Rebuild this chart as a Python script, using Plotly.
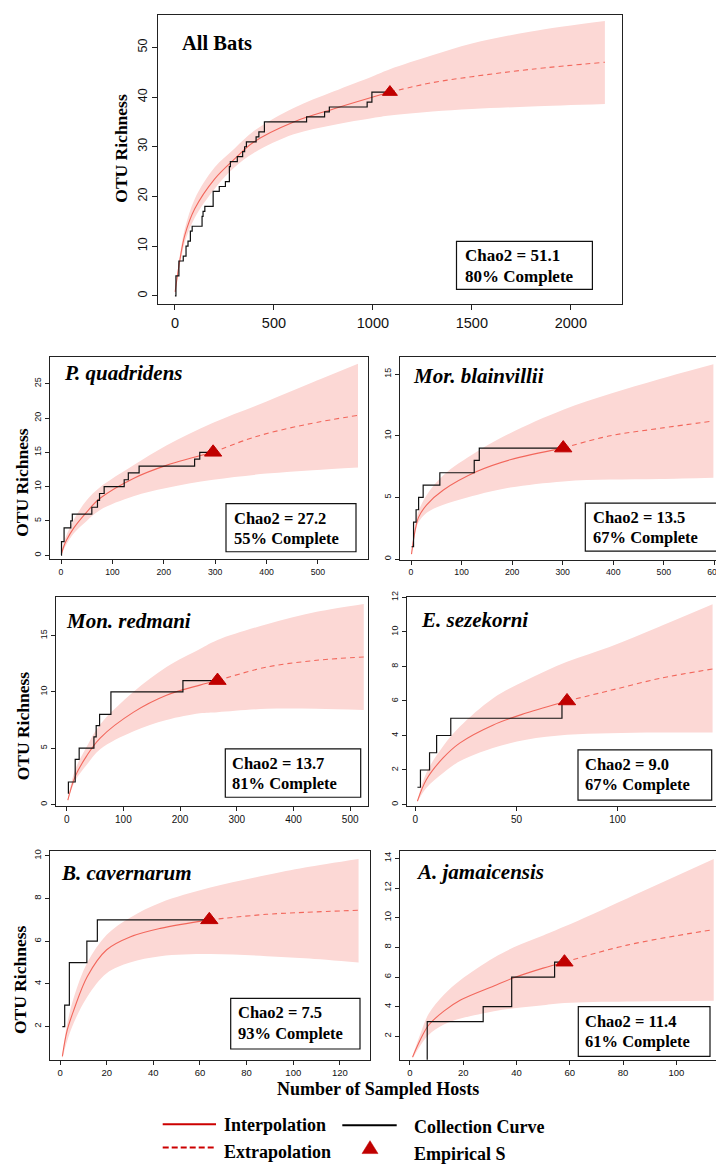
import plotly.graph_objects as go

W, H = 724, 1166
OFF = 8  # page body margin of the browser

# ======================= DATA =======================
# ---- All Bats ----
ab_int_x = [1, 25, 50, 100, 200, 300, 400, 600, 800, 1000, 1086]
ab_int_y = [0.8, 7.2, 12.2, 17.5, 23.5, 27.5, 31.0, 35.0, 37.6, 40.0, 41.0]
ab_ext_x = [1086, 1300, 1500, 1800, 2172]
ab_ext_y = [41.0, 42.9, 44.1, 45.6, 47.0]
ab_band_x = [1, 25, 50, 100, 200, 300, 400, 600, 800, 1000, 1086, 1300, 1500, 1800, 2172]
ab_band_lo = [0.7, 6.3, 10.8, 15.7, 21.5, 25.8, 28.8, 32.5, 34.4, 35.8, 36.3, 37.1, 37.6, 38.1, 38.6]
ab_band_hi = [0.9, 8.2, 13.5, 19.5, 25.8, 29.6, 33.2, 37.8, 41.1, 44.2, 45.6, 48.4, 50.8, 53.2, 55.3]
ab_step_x = [0, 5, 20, 42, 56, 66, 78, 87, 137, 142, 151, 193, 224, 255, 275, 280, 315, 342, 352, 361,
             410, 424, 452, 665, 756, 780, 971, 995, 1086]
ab_step_y = [0, 4, 7, 8, 10, 11, 13, 14, 16, 17, 18, 21, 22, 23, 26, 27, 28, 29, 30, 31,
             32, 33, 35, 36, 37, 38, 39, 41, 41]
ab_obs_x, ab_obs_y = 1086, 41
ab_chao2, ab_complete = "51.1", "80%"
ab_xticks = [0, 500, 1000, 1500, 2000]
ab_yticks = [0, 10, 20, 30, 40, 50]

# ---- P. quadridens ----
pq_int_x = [1, 5, 10, 25, 50, 76, 141, 205, 296]
pq_int_y = [0.2, 1.2, 2.1, 4.0, 6.3, 8.3, 11.2, 13.1, 15.0]
pq_ext_x = [296, 380, 480, 578]
pq_ext_y = [15.0, 17.3, 19.1, 20.4]
pq_band_x = [1, 5, 10, 25, 50, 76, 141, 205, 296, 400, 490, 578]
pq_band_lo = [0.1, 0.8, 1.5, 3.2, 5.0, 6.6, 8.6, 9.8, 11.0, 11.9, 12.4, 12.8]
pq_band_hi = [0.3, 1.7, 2.8, 5.2, 8.0, 9.9, 13.1, 16.0, 19.3, 22.4, 25.2, 27.9]
pq_step_x = [0, 1, 6, 19, 22, 60, 71, 75, 84, 123, 131, 152, 260, 270, 296]
pq_step_y = [0, 2, 4, 5, 6, 7, 8, 9, 10, 11, 12, 13, 14, 15, 15]
pq_obs_x, pq_obs_y = 296, 15
pq_chao2, pq_complete = "27.2", "55%"
pq_xticks = [0, 100, 200, 300, 400, 500]
pq_yticks = [0, 5, 10, 15, 20, 25]

# ---- Mor. blainvillii ----
mb_int_x = [1, 5, 10, 15, 31, 64, 130, 196, 301]
mb_int_y = [0.4, 1.6, 2.7, 3.4, 4.4, 5.6, 7.1, 8.05, 9.0]
mb_ext_x = [301, 394, 492, 598]
mb_ext_y = [9.0, 10.0, 10.6, 11.2]
mb_band_x = [1, 5, 10, 15, 31, 64, 130, 196, 301, 394, 492, 598]
mb_band_lo = [0.3, 1.3, 2.4, 3.0, 3.75, 4.4, 5.2, 5.8, 6.3, 6.45, 6.5, 6.6]
mb_band_hi = [0.5, 1.9, 3.1, 3.9, 5.2, 6.8, 8.7, 10.2, 12.1, 13.4, 14.6, 15.8]
mb_step_x = [1, 5, 10, 15, 24, 57, 125, 135, 301]
mb_step_y = [1, 3, 4, 5, 6, 7, 8, 9, 9]
mb_obs_x, mb_obs_y = 301, 9
mb_chao2, mb_complete = "13.5", "67%"
mb_xticks = [0, 100, 200, 300, 400, 500, 600]
mb_yticks = [0, 5, 10, 15]

# ---- Mon. redmani ----
mr_int_x = [2, 15, 35, 59, 118, 176, 235, 266]
mr_int_y = [0.4, 2.5, 4.3, 5.9, 8.2, 9.7, 10.6, 11.0]
mr_ext_x = [266, 353, 441, 524]
mr_ext_y = [11.0, 12.2, 12.8, 13.1]
mr_band_x = [2, 15, 35, 59, 118, 176, 235, 266, 353, 441, 524]
mr_band_lo = [0.3, 2.1, 3.5, 4.9, 6.5, 7.5, 8.1, 8.2, 8.5, 8.5, 8.4]
mr_band_hi = [0.5, 3.1, 5.1, 7.1, 10.0, 12.2, 13.8, 14.6, 16.0, 17.1, 17.8]
mr_step_x = [2, 3, 15, 22, 48, 52, 58, 78, 205, 266]
mr_step_y = [1, 2, 4, 5, 6, 7, 8, 10, 11, 11]
mr_obs_x, mr_obs_y = 266, 11
mr_chao2, mr_complete = "13.7", "81%"
mr_xticks = [0, 100, 200, 300, 400, 500]
mr_yticks = [0, 5, 10, 15]

# ---- E. sezekorni ----
es_int_x = [1, 5.4, 13.7, 21.9, 38.3, 54.8, 75]
es_int_y = [0.2, 1.44, 2.7, 3.56, 4.6, 5.3, 6.0]
es_ext_x = [75, 96, 120.6, 147]
es_ext_y = [6.0, 6.6, 7.3, 7.85]
es_band_x = [1, 5.4, 13.7, 21.9, 38.3, 54.8, 75, 96, 120.6, 147]
es_band_lo = [0.15, 0.96, 1.83, 2.5, 3.27, 3.75, 4.04, 4.13, 4.17, 4.17]
es_band_hi = [0.25, 1.83, 3.37, 4.5, 6.15, 7.2, 8.27, 9.13, 10.3, 11.6]
es_step_x = [1, 2.5, 7, 10.5, 17.5, 72.5, 75]
es_step_y = [1, 2, 3, 4, 5, 6, 6]
es_obs_x, es_obs_y = 75, 6
es_chao2, es_complete = "9.0", "67%"
es_xticks = [0, 50, 100, 150]
es_yticks = [0, 2, 4, 6, 8, 10, 12]

# ---- B. cavernarum ----
bc_int_x = [1, 3, 6, 11.7, 20, 30, 43, 64]
bc_int_y = [0.6, 1.8, 2.8, 4.35, 5.6, 6.2, 6.6, 7.0]
bc_ext_x = [64, 88.6, 105, 128]
bc_ext_y = [7.0, 7.26, 7.35, 7.45]
bc_band_x = [1, 3, 6, 11.7, 20, 30, 43, 64, 88.6, 105, 128]
bc_band_lo = [0.5, 1.3, 2.2, 3.4, 4.5, 5.0, 5.3, 5.4, 5.3, 5.2, 5.0]
bc_band_hi = [0.7, 2.1, 3.4, 5.0, 6.3, 7.1, 7.8, 8.5, 9.1, 9.45, 9.85]
bc_step_x = [1, 2, 4, 11.5, 16, 64]
bc_step_y = [2, 3, 5, 6, 7, 7]
bc_obs_x, bc_obs_y = 64, 7
bc_chao2, bc_complete = "7.5", "93%"
bc_xticks = [0, 20, 40, 60, 80, 100, 120]
bc_yticks = [2, 4, 6, 8, 10]

# ---- A. jamaicensis ----
aj_int_x = [1, 4, 7, 12.75, 19, 31.5, 39, 50, 58]
aj_int_y = [0.6, 1.8, 2.75, 3.7, 4.45, 5.4, 5.95, 6.6, 7.0]
aj_ext_x = [58, 81.5, 114]
aj_ext_y = [7.0, 8.15, 9.2]
aj_band_x = [1, 4, 7, 12.75, 19, 31.5, 39, 50, 58, 81.5, 114]
aj_band_lo = [0.5, 1.4, 2.1, 2.8, 3.2, 3.7, 3.9, 4.1, 4.25, 4.35, 4.4]
aj_band_hi = [0.7, 2.2, 3.5, 4.8, 5.8, 7.3, 8.0, 8.8, 9.4, 11.3, 13.95]
aj_step_x = [6.4, 6.5, 27.5, 38.2, 54.3, 57]
aj_step_y = [0, 3, 4, 6, 7, 7]
aj_obs_x, aj_obs_y = 58, 7
aj_chao2, aj_complete = "11.4", "61%"
aj_xticks = [0, 20, 40, 60, 80, 100]
aj_yticks = [2, 4, 6, 8, 10, 12, 14]

# ======================= LAYOUT / STYLE =======================
SERIF = "Liberation Serif"
SANS = "Liberation Sans"
RED = "#F2675C"
FILL = "#FCD8D5"
TRI = "#C00000"
FRAME = "#222222"

panels = [
    dict(name="All Bats", italic=False,
         ix=ab_int_x, iy=ab_int_y, ex=ab_ext_x, ey=ab_ext_y,
         bx=ab_band_x, blo=ab_band_lo, bhi=ab_band_hi, sx=ab_step_x, sy=ab_step_y,
         ox=ab_obs_x, oy=ab_obs_y, chao=ab_chao2, comp=ab_complete, xt=ab_xticks, yt=ab_yticks,
         box=(158, 8.6, 622.3, 300), xr=[-85.6, 2260], yr=[-1.7, 56.6],
         xfs=14.5, yfs=12.5, tl=5, tri=13, lab=(180.4, 37.3, 20.5),
         cbox=(456.5, 236.7, 592.4, 285), cfs=17, cpad=6,
         ytitle=(121, 142.5)),
    dict(name="P. quadridens", italic=True,
         ix=pq_int_x, iy=pq_int_y, ex=pq_ext_x, ey=pq_ext_y,
         bx=pq_band_x, blo=pq_band_lo, bhi=pq_band_hi, sx=pq_step_x, sy=pq_step_y,
         ox=pq_obs_x, oy=pq_obs_y, chao=pq_chao2, comp=pq_complete, xt=pq_xticks, yt=pq_yticks,
         box=(50, 353.3, 368.3, 556.7), xr=[-21.4, 598], yr=[-0.6, 28.86],
         xfs=8.7, yfs=9, tl=4, tri=15, lab=(61.7, 369, 21),
         cbox=(226, 500.7, 356, 549), cfs=16.5, cpad=5.7,
         ytitle=(21.7, 479)),
    dict(name="Mor. blainvillii", italic=True,
         ix=mb_int_x, iy=mb_int_y, ex=mb_ext_x, ey=mb_ext_y,
         bx=mb_band_x, blo=mb_band_lo, bhi=mb_band_hi, sx=mb_step_x, sy=mb_step_y,
         ox=mb_obs_x, oy=mb_obs_y, chao=mb_chao2, comp=mb_complete, xt=mb_xticks, yt=mb_yticks,
         box=(400, 353.3, 723.3, 557), xr=[-21.8, 617.6], yr=[-0.05, 16.37],
         xfs=8.7, yfs=9, tl=4, tri=15, lab=(410.7, 371.7, 21),
         cbox=(585.3, 500, 722.3, 548.3), cfs=16.5, cpad=5.7,
         ytitle=None),
    dict(name="Mon. redmani", italic=True,
         ix=mr_int_x, iy=mr_int_y, ex=mr_ext_x, ey=mr_ext_y,
         bx=mr_band_x, blo=mr_band_lo, bhi=mr_band_hi, sx=mr_step_x, sy=mr_step_y,
         ox=mr_obs_x, oy=mr_obs_y, chao=mr_chao2, comp=mr_complete, xt=mr_xticks, yt=mr_yticks,
         box=(55.7, 594.3, 368.3, 804.7), xr=[-19.4, 532], yr=[-0.12, 18.44],
         xfs=10, yfs=9, tl=4, tri=15, lab=(64.3, 618.3, 21),
         cbox=(225.3, 747.3, 360.7, 796), cfs=16.5, cpad=5,
         ytitle=(22.7, 724)),
    dict(name="E. sezekorni", italic=True,
         ix=es_int_x, iy=es_int_y, ex=es_ext_x, ey=es_ext_y,
         bx=es_band_x, blo=es_band_lo, bhi=es_band_hi, sx=es_step_x, sy=es_step_y,
         ox=es_obs_x, oy=es_obs_y, chao=es_chao2, comp=es_complete, xt=es_xticks, yt=es_yticks,
         box=(406.7, 594.3, 723.3, 804.7), xr=[-4.3, 152.3], yr=[-0.08, 12.04],
         xfs=10, yfs=9, tl=4, tri=15, lab=(419.3, 617.7, 21),
         cbox=(578, 748.3, 711.7, 799), cfs=16.5, cpad=5,
         ytitle=None),
    dict(name="B. cavernarum", italic=True,
         ix=bc_int_x, iy=bc_int_y, ex=bc_ext_x, ey=bc_ext_y,
         bx=bc_band_x, blo=bc_band_lo, bhi=bc_band_hi, sx=bc_step_x, sy=bc_step_y,
         ox=bc_obs_x, oy=bc_obs_y, chao=bc_chao2, comp=bc_complete, xt=bc_xticks, yt=bc_yticks,
         box=(50, 850, 370, 1060), xr=[-4.3, 132.9], yr=[0.45, 10.23],
         xfs=9.5, yfs=9.5, tl=4, tri=15, lab=(59.3, 872.7, 21),
         cbox=(230.7, 998.3, 360, 1049.3), cfs=16.5, cpad=5.3,
         ytitle=(20, 980)),
    dict(name="A. jamaicensis", italic=True,
         ix=aj_int_x, iy=aj_int_y, ex=aj_ext_x, ey=aj_ext_y,
         bx=aj_band_x, blo=aj_band_lo, bhi=aj_band_hi, sx=aj_step_x, sy=aj_step_y,
         ox=aj_obs_x, oy=aj_obs_y, chao=aj_chao2, comp=aj_complete, xt=aj_xticks, yt=aj_yticks,
         box=(399.5, 850.5, 723.3, 1060), xr=[-3.9, 117.6], yr=[0.43, 14.47],
         xfs=9.5, yfs=9.5, tl=4, tri=15, lab=(414.3, 871.7, 21),
         cbox=(578.3, 1006.7, 710, 1056.7), cfs=16.5, cpad=5,
         ytitle=None),
]

FW, FH = W - OFF, H - OFF


def px(x):
    return (x - OFF) / FW


def py(y):
    return 1 - (y - OFF) / FH


fig = go.Figure()
layout = dict(width=FW, height=FH, autosize=False, margin=dict(l=0, r=0, t=0, b=0, pad=0),
              paper_bgcolor="white", plot_bgcolor="white", showlegend=False)
annotations = []
shapes = []

for i, p in enumerate(panels):
    n = i + 1
    xk = "x" if n == 1 else f"x{n}"
    yk = "y" if n == 1 else f"y{n}"
    l, t, r, b = p["box"]
    common = dict(showline=True, mirror=True, linecolor=FRAME, linewidth=1,
                  ticks="outside", ticklen=p["tl"], tickcolor=FRAME, tickwidth=1,
                  showgrid=False, zeroline=False, fixedrange=True)
    layout["xaxis" if n == 1 else f"xaxis{n}"] = dict(
        domain=[px(l), min(1.0, px(r))], range=p["xr"], anchor=yk,
        tickvals=p["xt"], ticktext=[str(v) for v in p["xt"]],
        tickfont=dict(family=SANS, size=p["xfs"], color="#111"), **common)
    layout["yaxis" if n == 1 else f"yaxis{n}"] = dict(
        domain=[py(b), min(1.0, py(t))], range=p["yr"], anchor=xk,
        tickvals=p["yt"], ticktext=[str(v) for v in p["yt"]], tickangle=-90,
        tickfont=dict(family=SANS, size=p["yfs"], color="#111"), **common)

    # confidence band
    fig.add_trace(go.Scatter(x=p["bx"], y=p["blo"], mode="lines", line=dict(width=0, shape="spline"),
                             xaxis=xk, yaxis=yk, hoverinfo="skip"))
    fig.add_trace(go.Scatter(x=p["bx"], y=p["bhi"], mode="lines", line=dict(width=0, shape="spline"),
                             fill="tonexty", fillcolor=FILL, xaxis=xk, yaxis=yk, hoverinfo="skip"))
    # interpolation / extrapolation
    fig.add_trace(go.Scatter(x=p["ix"], y=p["iy"], mode="lines",
                             line=dict(color=RED, width=1.1, shape="spline"), xaxis=xk, yaxis=yk))
    fig.add_trace(go.Scatter(x=p["ex"], y=p["ey"], mode="lines",
                             line=dict(color=RED, width=1.1, shape="spline", dash="5px,4px"),
                             xaxis=xk, yaxis=yk))
    # collection curve
    fig.add_trace(go.Scatter(x=p["sx"], y=p["sy"], mode="lines",
                             line=dict(color="#111111", width=1.2, shape="hv"), xaxis=xk, yaxis=yk))
    # empirical S
    fig.add_trace(go.Scatter(x=[p["ox"]], y=[p["oy"]], mode="markers",
                             marker=dict(symbol="triangle-up", size=p["tri"], color=TRI,
                                         line=dict(color=TRI, width=1)),
                             xaxis=xk, yaxis=yk, cliponaxis=False))

    # panel label
    txt = f"<b><i>{p['name']}</i></b>" if p["italic"] else f"<b>{p['name']}</b>"
    lx, ly, lfs = p["lab"]
    annotations.append(dict(text=txt, x=px(lx), y=py(ly), xref="paper", yref="paper",
                            xanchor="left", yanchor="middle", showarrow=False,
                            font=dict(family=SERIF, size=lfs, color="black")))
    # Chao2 box
    cl, ct, cr, cb = p["cbox"]
    shapes.append(dict(type="rect", xref="paper", yref="paper", x0=px(cl), x1=px(cr),
                       y0=py(cb), y1=py(ct), line=dict(color="#111", width=1.2),
                       fillcolor="white", layer="above"))
    annotations.append(dict(text=f"<b>Chao2 = {p['chao']}</b>", x=px(cl + p["cpad"]), y=py(ct + 14.5),
                            xref="paper", yref="paper", xanchor="left", yanchor="middle",
                            showarrow=False, font=dict(family=SERIF, size=p["cfs"], color="black")))
    annotations.append(dict(text=f"<b>{p['comp']} Complete</b>", x=px(cl + p["cpad"]), y=py(ct + 35),
                            xref="paper", yref="paper", xanchor="left", yanchor="middle",
                            showarrow=False, font=dict(family=SERIF, size=p["cfs"], color="black")))
    # y title
    if p["ytitle"] is not None:
        tx, ty = p["ytitle"]
        annotations.append(dict(text="<b>OTU Richness</b>", x=px(tx), y=py(ty), xref="paper", yref="paper",
                                xanchor="center", yanchor="middle", textangle=-90, showarrow=False,
                                font=dict(family=SERIF, size=17.5, color="black")))

# x title
annotations.append(dict(text="<b>Number of Sampled Hosts</b>", x=px(378), y=py(1090), xref="paper",
                        yref="paper", xanchor="center", yanchor="middle", showarrow=False,
                        font=dict(family=SERIF, size=18, color="black")))

# legend
LEG_RED = "#CC0000"
shapes.append(dict(type="line", xref="paper", yref="paper", x0=px(162.7), x1=px(216),
                   y0=py(1125), y1=py(1125), line=dict(color=LEG_RED, width=2)))
shapes.append(dict(type="line", xref="paper", yref="paper", x0=px(162.7), x1=px(216),
                   y0=py(1148.3), y1=py(1148.3), line=dict(color=LEG_RED, width=2, dash="6px,3px")))
shapes.append(dict(type="line", xref="paper", yref="paper", x0=px(342.3), x1=px(396.7),
                   y0=py(1126), y1=py(1126), line=dict(color="black", width=2)))
tcx, tcy = 370, 1148.5
shapes.append(dict(type="path", xref="paper", yref="paper",
                   path=f"M {px(tcx-8)} {py(tcy+6)} L {px(tcx+8)} {py(tcy+6)} L {px(tcx)} {py(tcy-7)} Z",
                   fillcolor=TRI, line=dict(color=TRI, width=0.5)))
for text, x, y in [("Interpolation", 221.7, 1126), ("Extrapolation", 221.7, 1152.5),
                   ("Collection Curve", 411.7, 1127.5), ("Empirical S", 411.7, 1155)]:
    annotations.append(dict(text=f"<b>{text}</b>", x=px(x), y=py(y), xref="paper", yref="paper",
                            xanchor="left", yanchor="middle", showarrow=False,
                            font=dict(family=SERIF, size=18, color="black")))

layout["annotations"] = annotations
layout["shapes"] = shapes
fig.update_layout(**layout)
fig.write_html("out.html")
